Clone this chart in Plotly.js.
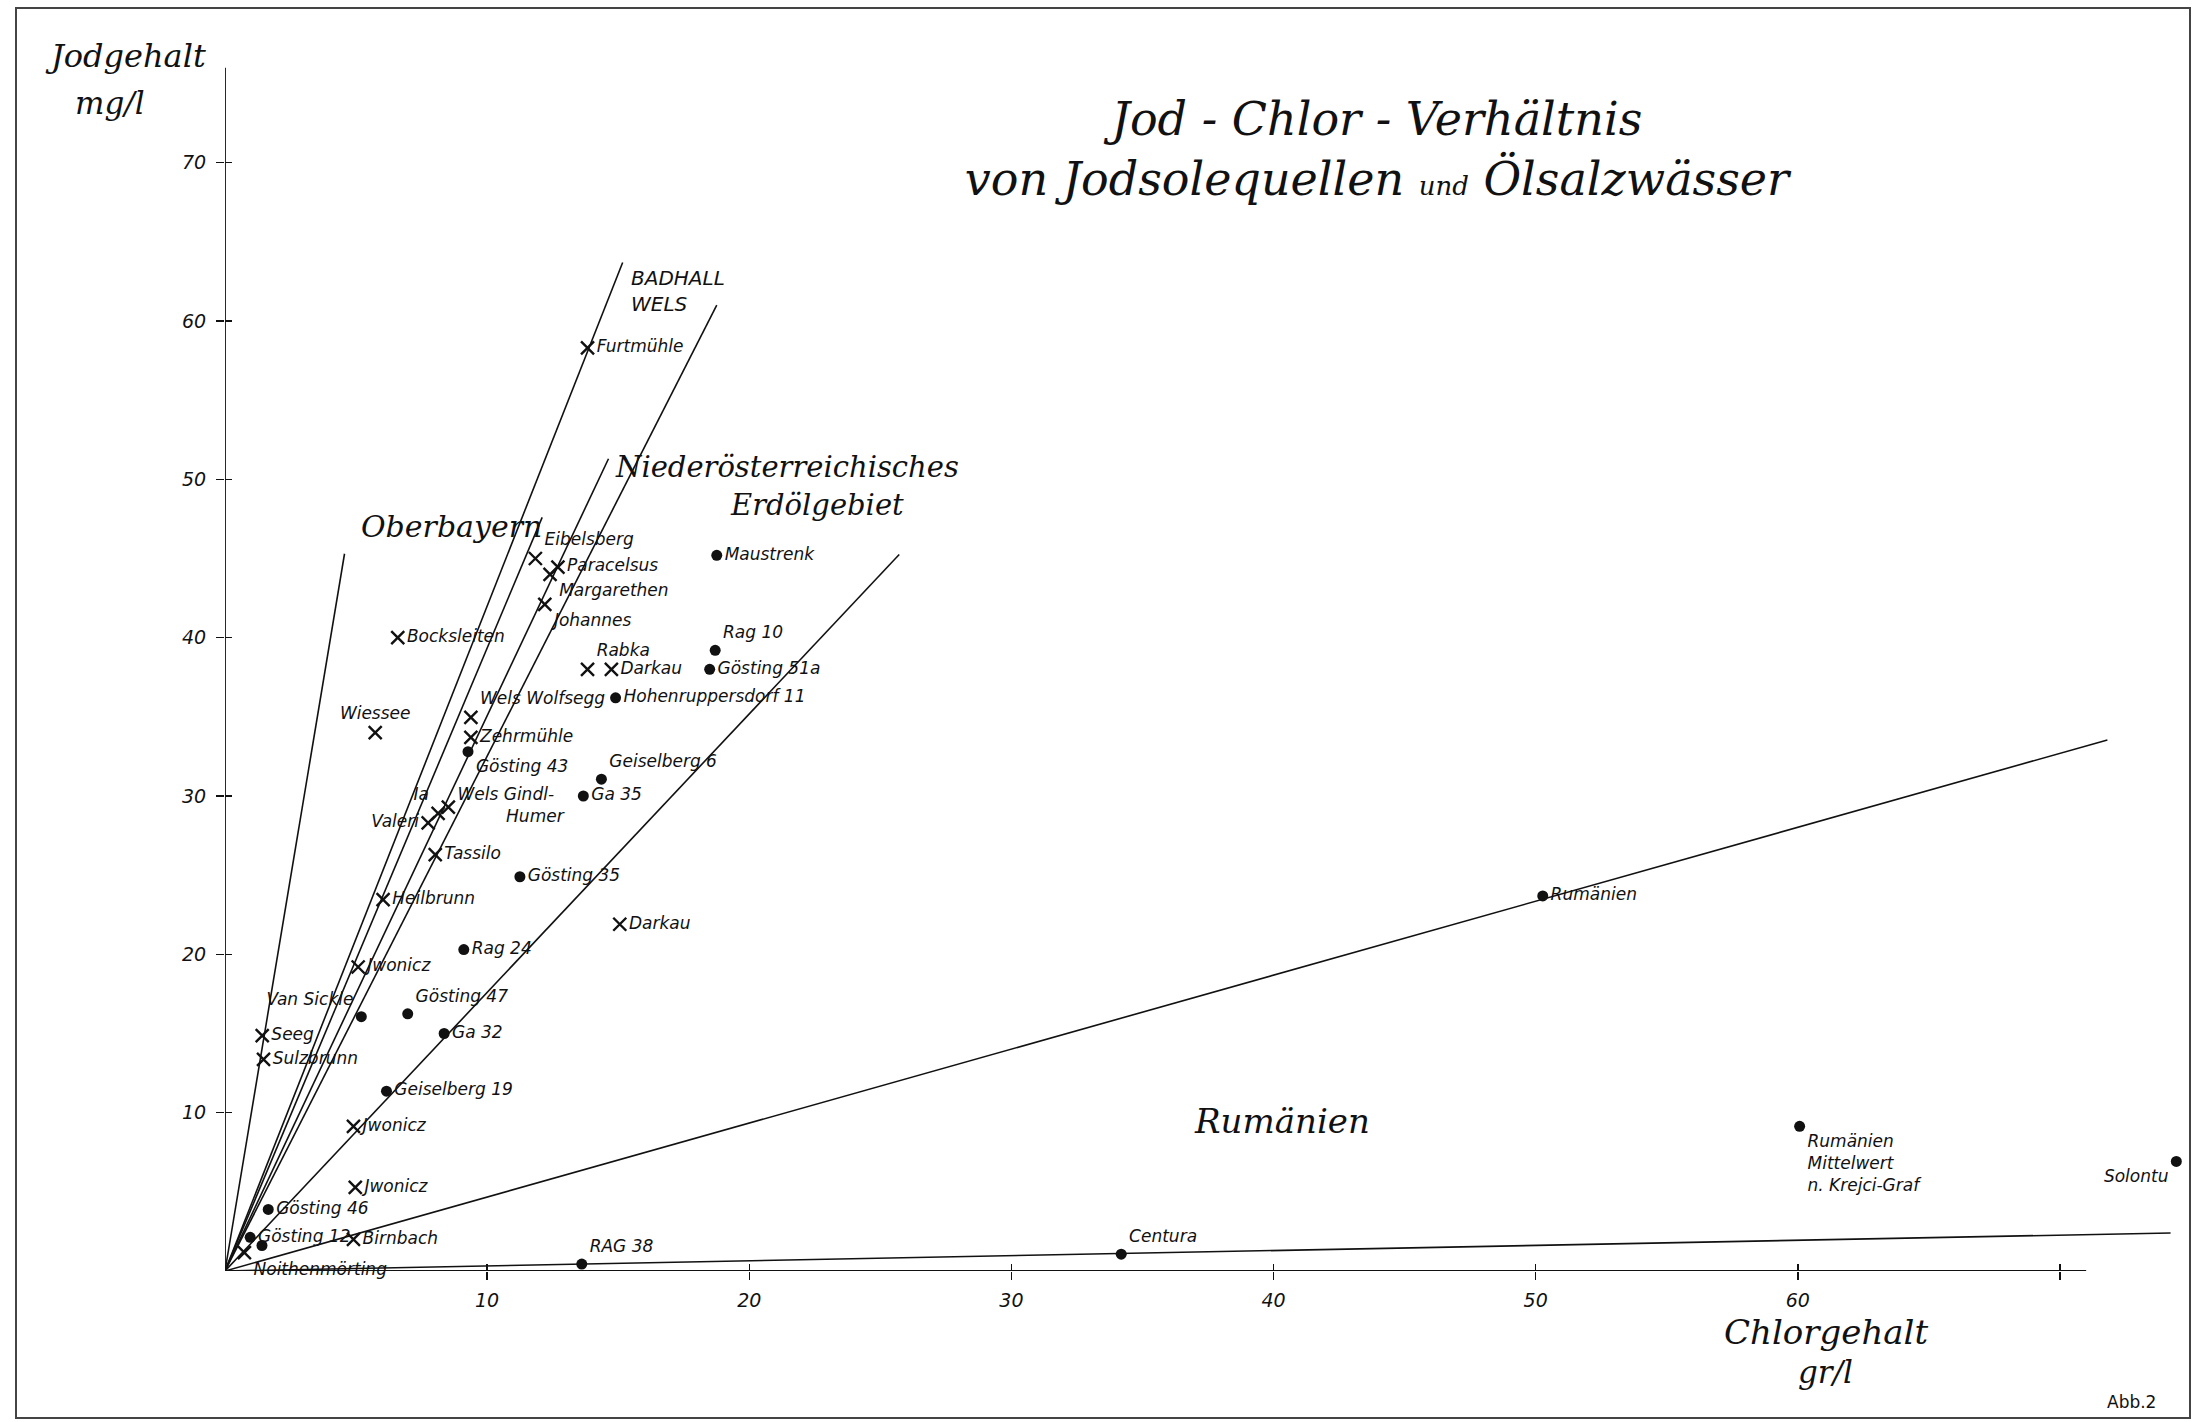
<!DOCTYPE html>
<html>
<head>
<meta charset="utf-8">
<script src="https://cdn.plot.ly/plotly-3.0.1.min.js"></script>
<style>html,body{margin:0;padding:0;background:#fff;}#chart{width:2203px;height:1422px;}</style>
</head>
<body>
<div id="chart"></div>
<script>
// ---- Data ----
// Jodsolequellen (X marks): Chlorgehalt g/l, Jodgehalt mg/l
const NB = "\u00a0";
const soleNames = ["Furtmühle","Eibelsberg","Paracelsus","Margarethen","Johannes","Bocksleiten","Wiessee",
  "Wels Wolfsegg","Zehrmühle","Rabka","Darkau","Ia","Wels Gindl-<br>" + NB.repeat(9) + "Humer","Valeri","Tassilo","Heilbrunn",
  "Jwonicz","Darkau","Seeg","Sulzbrunn","Jwonicz","Jwonicz","Birnbach","Noithenmörting"];
const soleChlor = [13.83,11.84,12.70,12.40,12.20,6.59,5.73,9.38,9.38,13.83,14.74,8.13,8.52,7.75,8.02,6.03,
  5.08,15.06,1.42,1.47,4.90,4.97,4.90,0.74];
const soleIod = [58.3,45.0,44.45,44.0,42.1,40.0,34.0,34.96,33.7,38.0,38.0,28.9,29.3,28.3,26.3,23.45,
  19.2,21.9,14.87,13.36,9.13,5.28,2.0,1.16];
const solePos = ["middle right","top right","middle right","bottom right","bottom right","middle right","top center",
  "top right","middle right","top right","middle right","top left","middle right","middle left","middle right","middle right",
  "middle right","middle right","middle right","middle right","middle right","middle right","middle right","bottom right"];

// Ölsalzwässer (dots)
const oelNames = ["Maustrenk","Rag 10","Gösting 51a","Hohenruppersdorf 11","Gösting 43","Geiselberg 6","Ga 35",
  "Gösting 35","Rag 24","Van Sickle","Gösting 47","Ga 32","Geiselberg 19","Gösting 46","Gösting 12","",
  "RAG 38","Centura","Rumänien","Rumänien<br>Mittelwert<br>n. Krejci-Graf","Solontu"];
const oelChlor = [18.76,18.70,18.49,14.90,9.27,14.36,13.67,11.25,9.11,5.20,6.97,8.36,6.16,1.65,0.96,1.41,
  13.61,34.19,50.27,60.07,74.44];
const oelIod = [45.2,39.2,38.0,36.2,32.8,31.06,30.0,24.9,20.3,16.06,16.24,15.0,11.36,3.89,2.13,1.61,
  0.44,1.06,23.69,9.14,6.92];
const oelPos = ["middle right","top right","middle right","middle right","bottom right","top right","middle right",
  "middle right","middle right","top left","top right","middle right","middle right","middle right","middle right","middle right",
  "top right","top right","middle right","bottom right","bottom left"];

// Ratio lines from the origin (end points)
const lineChlor = [4.56,15.17,18.76,14.63,12.10,25.72,71.81,74.22];
const lineIod   = [45.3,63.7,61.0,51.3,47.6,45.25,33.54,2.40];

// Axis ticks
const xTicks = [10,20,30,40,50,60,70];
const xTickText = ["10","20","30","40","50","60",""];
const yTicks = [10,20,30,40,50,60,70];
const yTickText = ["10","20","30","40","50","60","70"];

// ---- Styles ----
const ink = "#111";
const handFont = {family:"DejaVu Sans", style:"italic", size:17, color:ink};
const scriptFont = (s)=>({family:"DejaVu Serif", style:"italic", size:s, color:ink});

const traces = [];
for (let i=0;i<lineChlor.length;i++){
  traces.push({x:[0,lineChlor[i]], y:[0,lineIod[i]], mode:"lines", type:"scatter",
    line:{color:ink,width:1.6}, hoverinfo:"skip", cliponaxis:false});
}
traces.push({x:soleChlor, y:soleIod, text:soleNames, textposition:solePos, mode:"markers+text", type:"scatter",
  marker:{symbol:"x-thin", size:13, line:{color:ink,width:2.4}, color:ink},
  textfont:handFont, cliponaxis:false});
traces.push({x:oelChlor, y:oelIod, text:oelNames, textposition:oelPos, mode:"markers+text", type:"scatter",
  marker:{symbol:"circle", size:11, color:ink},
  textfont:handFont, cliponaxis:false});
// helper trace so the inner half of the crossing ticks is drawn
traces.push({x:[0], y:[0], xaxis:"x2", yaxis:"y2", mode:"markers", marker:{opacity:0}, hoverinfo:"skip", type:"scatter"});

const plotL=225, plotR=2191, plotT=36, plotB=1271;
const px = (p)=>(p-plotL)/(plotR-plotL);
const py = (p)=>(plotB-p)/(plotB-plotT);

const tickFont = {family:"DejaVu Sans", style:"italic", size:19, color:ink};
const paperAnn = (text, x, y, font)=>({text, x:px(x), y:py(y), xref:"paper", yref:"paper",
  xanchor:"center", yanchor:"middle", showarrow:false, font});

const layout = {
  width:2203, height:1422,
  paper_bgcolor:"#fff", plot_bgcolor:"#fff",
  margin:{l:225, r:12, t:36, b:151, pad:0},
  showlegend:false,
  title:{text:"Jod - Chlor - Verhältnis<br>von Jodsolequellen <span style='font-size:26px'>und</span> Ölsalzwässer",
    x:0.625, xanchor:"center", y:0.905, yanchor:"middle", yref:"container",
    font:{family:"DejaVu Serif", style:"italic", size:46, color:ink}},
  xaxis:{range:[0,75], tickvals:xTicks, ticktext:xTickText, ticks:"outside", ticklen:8, tickwidth:1.5, tickcolor:ink,
    showgrid:false, zeroline:false, showline:false, tickfont:tickFont, ticklabelstandoff:4, fixedrange:true},
  yaxis:{range:[0,78], tickvals:yTicks, ticktext:yTickText, ticks:"outside", ticklen:8, tickwidth:1.5, tickcolor:ink,
    showgrid:false, zeroline:false, showline:false, tickfont:tickFont, ticklabelstandoff:6, fixedrange:true},
  xaxis2:{range:[0,75], overlaying:"x", anchor:"y", side:"bottom", tickvals:xTicks, ticks:"inside", ticklen:7, tickwidth:1.5,
    tickcolor:ink, showticklabels:false, showgrid:false, zeroline:false, showline:false},
  yaxis2:{range:[0,78], overlaying:"y", anchor:"x", side:"left", tickvals:yTicks, ticks:"inside", ticklen:7, tickwidth:1.5,
    tickcolor:ink, showticklabels:false, showgrid:false, zeroline:false, showline:false},
  shapes:[
    {type:"line", xref:"x", yref:"y", x0:0, y0:0, x1:0, y1:76, line:{color:ink,width:1.8}},
    {type:"line", xref:"x", yref:"y", x0:0, y0:0, x1:71, y1:0, line:{color:ink,width:1.8}},
    {type:"rect", xref:"paper", yref:"paper", x0:px(16), x1:px(2190), y0:py(1418), y1:py(8),
      line:{color:"#444",width:2}}
  ],
  annotations:[
    paperAnn("Jodgehalt", 125, 56, scriptFont(32)),
    paperAnn("mg/l", 110, 103, scriptFont(31)),
    paperAnn("Chlorgehalt", 1826, 1332, scriptFont(34)),
    paperAnn("gr/l", 1825, 1372, scriptFont(31)),
    paperAnn("Abb.2", 2131, 1402, {family:"DejaVu Sans", size:17, color:ink}),
    {text:"BADHALL", x:15.4, y:62.7, xref:"x", yref:"y", xanchor:"left", showarrow:false,
      font:{family:"DejaVu Sans", style:"italic", size:20, color:ink}},
    {text:"WELS", x:15.4, y:61.1, xref:"x", yref:"y", xanchor:"left", showarrow:false,
      font:{family:"DejaVu Sans", style:"italic", size:20, color:ink}},
    {text:"Niederösterreichisches", x:14.8, y:50.8, xref:"x", yref:"y", xanchor:"left", showarrow:false, font:scriptFont(29)},
    {text:"Erdölgebiet", x:19.2, y:48.4, xref:"x", yref:"y", xanchor:"left", showarrow:false, font:scriptFont(29)},
    {text:"Oberbayern", x:5.1, y:47.0, xref:"x", yref:"y", xanchor:"left", showarrow:false, font:scriptFont(30)},
    {text:"Rumänien", x:36.9, y:9.5, xref:"x", yref:"y", xanchor:"left", showarrow:false, font:scriptFont(34)}
  ]
};

Plotly.newPlot("chart", traces, layout, {staticPlot:true, displayModeBar:false});
</script>
</body>
</html>
